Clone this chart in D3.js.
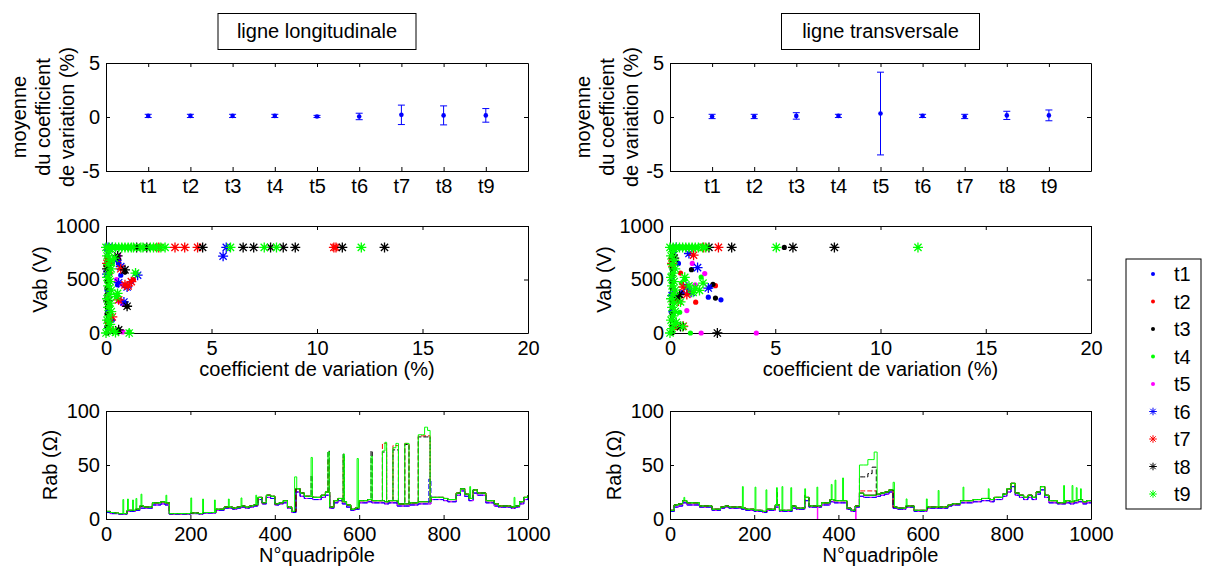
<!DOCTYPE html>
<html><head><meta charset="utf-8">
<script src="https://cdn.jsdelivr.net/npm/d3@7"></script>
<style>
body{margin:0;background:#fff;}
svg{display:block;font-family:"Liberation Sans",Arial,sans-serif;}
</style></head><body>
<svg id="c" width="1206" height="570"></svg>
<script>
// ---------------- DATA ----------------
const seriesNames = ["t1","t2","t3","t4","t5","t6","t7","t8","t9"];
const panelTitles = ["ligne longitudinale","ligne transversale"];
const topTicks = [1,2,3,4,5,6,7,8,9];
const topYTicks = [-5,0,5];
const cvTicks = [0,5,10,15,20];
const vabTicks = [0,500,1000];
const quadTicks = [0,200,400,600,800,1000];
const rabTicks = [0,50,100];

// top: mean of coefficient of variation (%) and error half-width
const meanLong  = [0.10,0.10,0.10,0.10,0.05,0.05,0.20,0.15,0.15];
const errLong   = [0.15,0.15,0.15,0.15,0.10,0.30,0.90,0.88,0.63];
const meanTrans = [0.05,0.05,0.10,0.10,0.32,0.10,0.05,0.15,0.15];
const errTrans  = [0.20,0.20,0.30,0.15,3.83,0.15,0.20,0.38,0.50];

// middle: [coefficient de variation (%), Vab (V)]
const scLongT1 = [[0.05,800],[0.2,800],[0.5,800],[0.1,600],[0.05,400],[0.08,200],[0.05,50],[0.5,700],[0.6,650],[0.55,450],[0.9,280],[0.1,760],[0.7,540],[1.2,480],[0.3,120]];
const scLongT2 = [[0.1,800],[0.4,800],[1.0,800],[0.05,700],[0.1,300],[0.05,100],[0.6,680],[0.9,440],[0.7,300],[1.3,500],[0.3,30],[0.2,560]];
const scLongT3 = [[0.05,0],[0.05,60],[0.05,120],[0.05,180],[0.06,240],[0.05,300],[0.05,360],[0.05,420],[0.05,480],[0.05,540],[0.05,600],[0.05,660],[0.05,720],[0.05,780],[0.9,570],[1.0,250],[0.6,30],[0.5,700],[1.5,800]];
const scLongT4 = [[0.1,800],[0.8,800],[1.5,800],[2.2,800],[0.15,500],[0.2,250],[0.15,100],[0.3,650],[1.4,560],[0.5,340],[1.1,10]];
const scLongT5 = [[0.05,800],[0.3,800],[0.6,720],[0.5,500],[0.7,460],[0.6,300],[0.8,270],[0.8,10],[0.1,350]];
const scLongT6 = [[5.55,718],[5.7,800],[0.5,680],[0.7,620],[0.6,470],[0.85,290],[1.0,430],[0.05,550],[0.1,800],[1.5,540],[0.3,800]];
const scLongT7 = [[3.27,800],[3.73,800],[4.34,800],[10.8,800],[10.9,800],[0.7,600],[0.9,450],[1.05,440],[0.6,310],[0.3,150],[2.5,800],[1.2,480],[0.05,650]];
const scLongT8 = [[1.45,800],[1.93,800],[4.58,800],[6.5,800],[7.0,800],[7.8,800],[8.4,800],[8.97,800],[11.2,800],[13.2,800],[0.55,720],[0.9,590],[1.0,250],[0.6,30],[0.05,600],[0.1,300]];
const scLongT9 = [[0,0],[0.1,40],[0.2,80],[0.05,120],[0.15,160],[0.25,200],[0.1,240],[0.2,280],[0.05,320],[0.15,360],[0.25,400],[0.1,440],[0.2,480],[0.05,520],[0.15,560],[0.25,600],[0.1,640],[0.2,680],[0.05,720],[0.15,760],[0.35,20],[0.45,5],
  [0,800],[0.15,800],[0.3,800],[0.45,800],[0.6,800],[0.75,800],[0.9,800],[1.05,800],[1.2,800],[1.3,800],[1.65,800],[1.75,800],[2.1,800],[2.25,800],[2.4,800],[2.6,800],[2.8,800],[5.9,800],[7.5,800],[8.08,800],[12.1,800],[1.4,560],[0.5,340],[1.1,0],[0.4,700],[0.55,370]];

const scTransT1 = [[0.05,800],[0.3,800],[0.8,430],[1.9,430],[2.42,310],[1.82,335],[0.1,500],[0.05,200],[0.4,650],[0.6,380],[0.2,760]];
const scTransT2 = [[0.2,800],[2.16,442],[0.97,382],[1.22,288],[0.05,700],[0.1,300],[0.5,560],[0.3,50],[0.8,800]];
const scTransT3 = [[0.1,0],[0.1,60],[0.1,120],[0.1,180],[0.1,240],[0.1,300],[0.1,360],[0.1,420],[0.1,480],[0.1,540],[0.1,600],[0.1,660],[0.1,720],[0.1,780],[2.04,455],[2.16,326],[1.02,592],[5.43,800],[0.6,60],[0.4,350]];
const scTransT4 = [[0.54,467],[0.46,194],[0.89,398],[1.48,523],[0.97,0],[0.3,800],[1.0,800],[0.2,300],[0.7,500]];
const scTransT5 = [[1.06,650],[1.65,555],[0.8,210],[1.48,0],[4.1,0],[0.5,800],[0.2,400],[1.2,450]];
const scTransT6 = [[0.9,743],[1.31,611],[0.8,430],[0.1,350],[0.3,800],[1.0,380],[1.82,420]];
const scTransT7 = [[1.12,727],[2.3,800],[0.63,430],[0.63,63],[0.1,650],[0.4,300],[1.6,800],[0.8,360]];
const scTransT8 = [[2.93,800],[5.84,800],[7.81,800],[0.37,335],[2.25,0],[0.2,700],[1.85,800],[0.5,60],[0.45,360]];
const scTransT9 = [[0,0],[0.1,40],[0.2,80],[0.05,120],[0.15,160],[0.25,200],[0.1,240],[0.2,280],[0.05,320],[0.15,360],[0.25,400],[0.1,440],[0.2,480],[0.05,520],[0.15,560],[0.25,600],[0.1,640],[0.2,680],[0.05,720],[0.15,760],[0.3,100],
  [0,800],[0.15,800],[0.3,800],[0.45,800],[0.6,800],[0.75,800],[0.9,800],[1.05,800],[1.2,800],[1.35,800],[1.55,800],[1.7,800],[5.05,800],[11.78,800],[1.57,467],[1.4,398],[0.5,290],[0.6,60],[0.9,440],[1.2,420],[0.7,520],[1.1,380]];

// bottom: Rab (ohm) read every 10 quadripoles (0..1000), plus narrow peaks [from, to, value]
const quadIdx = d3.range(0, 1001, 10);
const rabLongMid = [7,6,5.5,5,5,8,8,9,12,11,
 11,15,15,16,15,5,5,5,5,5,
 5.5,5.5,5,6,6,6,9,9,11,11,
 10,11,12,11,12,13,20,15,22,21,
 14,15,17,11,7,28,24,21,21,20,
 20,22,25,11,17,19,16,13,9,10,
 17,17,18,17,17,17,16,17,17,14,
 14,14,15,15,16,16,16,20,20,20,
 19,18,18,24,28,23,19,27,24,24,
 17,17,14,12,12,12,11,12,16,20,
 22];
const rabLongLow = [6,5,5,4.5,4.5,7,7,8,10,10,
 10,13,13,14,13,4.5,4.5,4.5,4.5,4.5,
 5,5,4.5,5.5,5.5,5.5,8,8,10,10,
 9,10,11,10,11,12,18,14,20,19,
 13,14,15,10,6,25,21,19,19,18,
 18,20,22,10,15,17,14,11,8,9,
 15,15,16,15,15,15,14,15,15,12,
 12,12,13,13,14,14,14,18,18,18,
 17,16,16,22,26,21,17,24,22,22,
 15,15,12,11,11,11,10,11,14,18,
 20];
const rabTransMid = [8,13,14,17,15,15,15,12,12,12,
 9,9,11,12,11,11,11,10,9,9,
 8,8,7,9,9,13,8,8,8,12,
 10,10,20,12,12,12,15,15,18,17,
 17,17,10,8,12,24,22,22,22,23,
 24,25,27,11,10,10,12,12,8,8,
 8,11,11,11,11,11,13,14,14,17,
 17,17,18,18,19,19,18,20,20,23,
 28,33,24,22,20,22,20,25,30,22,
 17,17,15,15,17,16,17,18,16,17,
 17];
const rabTransLow = [7,11,12,15,13,13,13,11,11,11,
 8,8,10,11,10,10,10,9,8,8,
 7,7,6,8,8,11,7,7,7,10,
 9,9,17,11,11,11,13,13,16,15,
 15,15,9,7,11,21,20,20,20,21,
 22,23,25,10,9,9,11,11,7,7,
 7,10,10,10,10,10,12,13,13,15,
 15,15,16,16,17,17,16,18,18,21,
 25,30,22,20,18,20,18,23,27,20,
 15,15,14,14,15,14,15,16,14,15,
 15];
const peaksLongT6 = [[765,770,37]];
const peaksLongT7 = [[526,529,55],[562,565,58],[655,665,70],[680,693,68],[708,718,70],[740,768,77]];
const peaksLongT8 = [[486,489,40],[526,529,63],[562,565,60],[628,631,63],[655,665,62],[680,693,64],[708,718,69],[740,768,76]];
const peaksLongT9 = [[40,42,18],[51,53,18.5],[63,65,17.6],[71,73,19],[83,85,23],[142,144,22],[201,203,19.5],[229,231,18.5],[257,259,17.6],[290,292,18.5],[320,322,19.5],[355,357,22],[447,452,39],[486,489,57],[526,529,62],[562,565,60],[595,598,56],[628,631,58],[655,661,63],[661,665,71],[680,687,66],[687,693,70],[708,718,70],[740,755,78],[755,762,85],[762,768,82],[862,864,30],[967,969,20]];
const peaksTransT5 = [[350,351,0],[441,442,0]];
const peaksTransT7 = [[253,255,25],[320,322,22],[450,490,26]];
const peaksTransT8 = [[253,255,25],[320,322,22],[450,470,39],[470,480,42],[480,490,48]];
const peaksTransT9 = [[33,35,20],[172,174,30],[202,204,29.5],[228,230,27],[253,255,29],[266,268,30],[287,289,29],[320,322,28],[349,351,29.5],[383,385,32],[392,394,36],[410,412,38],[450,470,50],[470,485,55],[485,492,62],[530,533,34],[561,563,18.6],[609,611,18.6],[637,639,26.4],[696,698,29.5],[756,758,28],[935,937,31],[955,957,31],[965,967,29],[975,977,28]];

// ---------------- STYLE / LAYOUT ----------------
const colors = ["#0000ff","#ff0000","#000000","#00ff00","#ff00ff","#0000ff","#ff0000","#000000","#00ff00"];
const markers = ["dot","dot","dot","dot","dot","star","star","star","star"];
const FS = 20;
const cols = [{x0:106,x1:528},{x0:670,x1:1091}];
const rowTop = [63,171], rowMid = [226,333], rowBot = [411,519];

const svg = d3.select("#c");
svg.append("rect").attr("width",1206).attr("height",570).attr("fill","#fff");
const plainNum = d => String(d);

function axes(g, x, y, xt, yt, xfmt, yfmt){
  const [y1,y0] = y.range();
  const [x0,x1] = x.range();
  const style = a => { a.attr("font-size",FS).attr("font-family","'Liberation Sans',Arial,sans-serif");
    a.selectAll("text").attr("fill","#000"); a.selectAll("line,path").attr("stroke","#000"); };
  g.append("g").attr("transform",`translate(0,${y1})`)
    .call(d3.axisBottom(x).tickValues(xt).tickFormat(xfmt).tickSize(-4).tickSizeOuter(0).tickPadding(8)).call(style);
  g.append("g").attr("transform",`translate(0,${y0})`)
    .call(d3.axisTop(x).tickValues(xt).tickFormat("").tickSize(-4).tickSizeOuter(0)).call(style);
  g.append("g").attr("transform",`translate(${x0},0)`)
    .call(d3.axisLeft(y).tickValues(yt).tickFormat(yfmt).tickSize(-4).tickSizeOuter(0).tickPadding(6)).call(style);
  g.append("g").attr("transform",`translate(${x1},0)`)
    .call(d3.axisRight(y).tickValues(yt).tickFormat("").tickSize(-4).tickSizeOuter(0)).call(style);
}

function rotLabel(x, y, txt){
  svg.append("text").attr("transform",`translate(${x},${y}) rotate(-90)`)
    .attr("text-anchor","middle").attr("font-size",FS).attr("fill","#000").text(txt);
}
function xLabel(x, y, txt){
  svg.append("text").attr("x",x).attr("y",y).attr("text-anchor","middle")
    .attr("font-size",FS).attr("fill","#000").text(txt);
}

function drawMarker(g, type, cx, cy, color, small){
  if(type==="dot"){
    g.append("circle").attr("cx",cx).attr("cy",cy).attr("r",small?2:2.6).attr("fill",color);
  } else {
    const a = small?3.8:5, d = small?2.7:3.6;
    g.append("path").attr("d",`M${cx-a},${cy}H${cx+a}M${cx},${cy-a}V${cy+a}M${cx-d},${cy-d}L${cx+d},${cy+d}M${cx-d},${cy+d}L${cx+d},${cy-d}`)
      .attr("stroke",color).attr("stroke-width",small?1:1.3).attr("fill","none");
  }
}

function buildSeries(base, peaks){
  const xs = new Set(quadIdx);
  peaks.forEach(p => { xs.add(p[0]); xs.add(p[1]); });
  return Array.from(xs).sort((a,b)=>a-b).map(q => {
    const p = peaks.find(s => q >= s[0] && q < s[1]);
    return [q, p ? p[2] : base[Math.min(base.length-1, Math.floor(q/10))]];
  });
}

const meanData = [[meanLong,errLong],[meanTrans,errTrans]];
const scData = [
  [scLongT1,scLongT2,scLongT3,scLongT4,scLongT5,scLongT6,scLongT7,scLongT8,scLongT9],
  [scTransT1,scTransT2,scTransT3,scTransT4,scTransT5,scTransT6,scTransT7,scTransT8,scTransT9]];
const rabData = [
  [[rabLongLow,[]],[rabLongMid,[]],[rabLongMid,[]],[rabLongMid,[]],[rabLongLow,[]],[rabLongLow,peaksLongT6],[rabLongMid,peaksLongT7],[rabLongMid,peaksLongT8],[rabLongMid,peaksLongT9]],
  [[rabTransLow,[]],[rabTransMid,[]],[rabTransMid,[]],[rabTransMid,[]],[rabTransLow,peaksTransT5],[rabTransLow,[]],[rabTransMid,peaksTransT7],[rabTransMid,peaksTransT8],[rabTransMid,peaksTransT9]]];

cols.forEach((c, ci) => {
  const cx = (c.x0 + c.x1)/2;
  // title box
  const tb = svg.append("g");
  tb.append("rect").attr("x",cx-99).attr("y",13.5).attr("width",198).attr("height",36)
    .attr("fill","#fff").attr("stroke","#000").attr("stroke-width",1);
  tb.append("text").attr("x",cx).attr("y",38).attr("text-anchor","middle")
    .attr("font-size",FS).attr("fill","#000").text(panelTitles[ci]);

  // ---- top: errorbars
  const xT = d3.scaleLinear().domain([0,10]).range([c.x0,c.x1]);
  const yT = d3.scaleLinear().domain([-5,5]).range([rowTop[1],rowTop[0]]);
  const gT = svg.append("g");
  axes(gT, xT, yT, topTicks, topYTicks, (d,i)=>seriesNames[i], plainNum);
  const [mArr, eArr] = meanData[ci];
  mArr.forEach((m,i) => {
    const px = xT(i+1);
    const top = yT(m+eArr[i]), bot = yT(m-eArr[i]);
    gT.append("path").attr("d",`M${px},${top}V${bot}M${px-3.5},${top}H${px+3.5}M${px-3.5},${bot}H${px+3.5}`)
      .attr("stroke","#0000ff").attr("stroke-width",1).attr("fill","none");
    gT.append("circle").attr("cx",px).attr("cy",yT(m)).attr("r",2.3).attr("fill","#0000ff");
  });
  const off = ci===0 ? 0 : 564;
  rotLabel(26+off, (rowTop[0]+rowTop[1])/2, "moyenne");
  rotLabel(50+off, (rowTop[0]+rowTop[1])/2, "du coefficient");
  rotLabel(74+off, (rowTop[0]+rowTop[1])/2, "de variation (%)");

  // ---- middle: scatter
  const xM = d3.scaleLinear().domain([0,20]).range([c.x0,c.x1]);
  const yM = d3.scaleLinear().domain([0,1000]).range([rowMid[1],rowMid[0]]);
  const gM = svg.append("g");
  axes(gM, xM, yM, cvTicks, vabTicks, plainNum, plainNum);
  scData[ci].forEach((pts, si) => {
    pts.forEach(p => drawMarker(gM, markers[si], xM(p[0]), yM(p[1]), colors[si], false));
  });
  rotLabel(47+off, (rowMid[0]+rowMid[1])/2, "Vab (V)");
  xLabel(cx, rowMid[1]+43, "coefficient de variation (%)");

  // ---- bottom: Rab lines
  const xB = d3.scaleLinear().domain([0,1000]).range([c.x0,c.x1]);
  const yB = d3.scaleLinear().domain([0,100]).range([rowBot[1],rowBot[0]]);
  const gB = svg.append("g");
  const clipId = "clipB"+ci;
  svg.append("clipPath").attr("id",clipId).append("rect")
    .attr("x",c.x0).attr("y",rowBot[0]).attr("width",c.x1-c.x0).attr("height",rowBot[1]-rowBot[0]);
  const line = d3.line().x(d=>xB(d[0])).y(d=>yB(d[1])).curve(d3.curveStepAfter);
  const gL = gB.append("g").attr("clip-path",`url(#${clipId})`);
  rabData[ci].forEach((sd, si) => {
    gL.append("path").attr("d", line(buildSeries(sd[0], sd[1])))
      .attr("fill","none").attr("stroke",colors[si]).attr("stroke-width",1)
      .attr("stroke-dasharray", si>=5 && si<8 ? "5,2" : null);
  });
  axes(gB, xB, yB, quadTicks, rabTicks, plainNum, plainNum);
  rotLabel(57+off, (rowBot[0]+rowBot[1])/2, "Rab (\u03A9)");
  xLabel(cx, rowBot[1]+43, "N\u00B0quadripôle");
});

// ---- legend
const lg = svg.append("g");
lg.append("rect").attr("x",1126).attr("y",259).attr("width",75).attr("height",250)
  .attr("fill","#fff").attr("stroke","#000").attr("stroke-width",1);
seriesNames.forEach((n,i) => {
  const yy = 274 + i*27.5;
  drawMarker(lg, markers[i], 1153, yy, colors[i], true);
  lg.append("text").attr("x",1174).attr("y",yy+7).attr("font-size",FS).attr("fill","#000").text(n);
});
</script>
</body></html>
